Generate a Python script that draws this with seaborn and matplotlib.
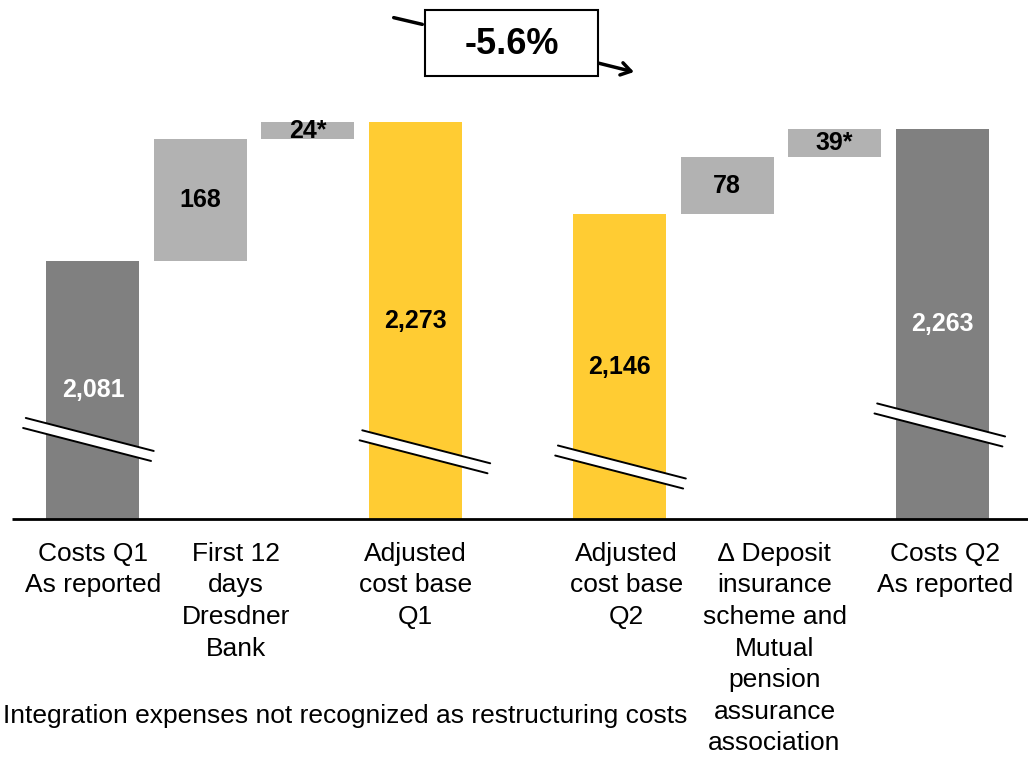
import matplotlib
matplotlib.use("Agg")
import matplotlib.pyplot as plt
from matplotlib.patches import Rectangle
import seaborn as sns
import pandas as pd

# waterfall steps, EUR m
steps = ["Costs Q1", "First 12 days", "Integration Q1", "Adjusted Q1",
         "Adjusted Q2", "Deposit insurance", "Integration Q2", "Costs Q2"]
values = [2081, 168, 24, 2273, 2146, 78, 39, 2263]
kinds = ["total", "delta", "delta", "adjusted", "adjusted", "delta", "delta", "total"]
value_labels = ["2,081", "168", "24*", "2,273", "2,146", "78", "39*", "2,263"]
x_pos = [0, 1, 2, 3, 4.9, 5.9, 6.9, 7.9]

category_labels = [
    "Costs Q1\nAs reported",
    "First 12\ndays\nDresdner\nBank",
    "Adjusted\ncost base\nQ1",
    "Adjusted\ncost base\nQ2",
    "\u2206 Deposit\ninsurance\nscheme and\nMutual\npension\nassurance\nassociation",
    "Costs Q2\nAs reported",
]
label_x = [0, 1.33, 3.0, 4.96, 6.34, 7.93]
change_label = "-5.6%"
footnote = "Integration expenses not recognized as restructuring costs"

palette = {"total": "#808080", "delta": "#b2b2b2", "adjusted": "#ffcc33"}
axis_base = 1725  # value sitting on the (broken) baseline

# break marks: bar index, x shift, height above baseline
breaks = [(0, -0.03, 110), (3, 0.10, 93), (4, 0.02, 72), (7, -0.01, 130)]

starts, heights = [], []
running = 0
for v, k in zip(values, kinds):
    if k == "delta":
        starts.append(running - axis_base)
        heights.append(v)
        running += v
    else:
        starts.append(0)
        heights.append(v - axis_base)
        running = v

df = pd.DataFrame({"pos": x_pos, "height": heights, "start": starts, "kind": kinds})

sns.set_style("white")
plt.rcParams["font.family"] = ["Liberation Sans", "DejaVu Sans"]
plt.rcParams["text.color"] = "black"

fig = plt.figure(figsize=(10.28, 7.6), dpi=100)
ax = fig.add_axes([0, 0, 1, 1])

sns.barplot(data=df, x="pos", y="height", bottom=df["start"].tolist(),
            native_scale=True, width=0.865, color="#808080", saturation=1,
            errorbar=None, linewidth=0, ax=ax)
for patch, k in zip(ax.patches, df["kind"]):
    patch.set_facecolor(palette[k])

for x, s, h, txt, k in zip(df["pos"], df["start"], df["height"], value_labels, kinds):
    ax.text(x, s + h / 2, txt, ha="center", va="center", fontsize=18,
            fontweight="bold", color="white" if k == "total" else "black", zorder=5)

# axis break marks
d, g, half = 45.5, 13.8, 0.595
for i, dx, m in breaks:
    c = x_pos[i] + dx
    x0, x1 = c - half, c + half
    ax.fill([x0, x1, x1 - 0.025, x0 - 0.025],
            [m + d / 2 + g / 2, m - d / 2 + g / 2, m - d / 2 - g / 2, m + d / 2 - g / 2],
            color="white", lw=0, zorder=3)
    ax.plot([x0, x1], [m + d / 2 + g / 2, m - d / 2 + g / 2], color="black", lw=1.4, zorder=4)
    ax.plot([x0 - 0.025, x1 - 0.025], [m + d / 2 - g / 2, m - d / 2 - g / 2],
            color="black", lw=1.4, zorder=4)

ax.plot([-0.753, 8.7], [0, 0], color="black", lw=2, zorder=6, solid_capstyle="butt")

for x, txt in zip(label_x, category_labels):
    ax.text(x, 0.287, txt, transform=ax.get_xaxis_transform(), ha="center", va="top",
            fontsize=19, linespacing=1.4, color="black")
ax.text(0.003, 0.058, footnote, transform=ax.transAxes, ha="left", va="center",
        fontsize=19, color="black")

# change annotation on top
fig.patches.append(Rectangle((425 / 1028, 684 / 760), 173 / 1028, 66 / 760,
                             transform=fig.transFigure, facecolor="white",
                             edgecolor="black", lw=1.5))
fig.text(511.5 / 1028, 715 / 760, change_label, ha="center", va="center",
         fontsize=26, fontweight="bold", color="black")
ax.annotate("", xy=(425, 735), xytext=(391, 743), xycoords="figure pixels",
            textcoords="figure pixels",
            arrowprops=dict(arrowstyle="-", lw=2.5, color="black"))
ax.annotate("", xy=(634, 688), xytext=(598, 697), xycoords="figure pixels",
            textcoords="figure pixels",
            arrowprops=dict(arrowstyle="->,head_length=0.7,head_width=0.45", lw=2.5,
                            color="black", shrinkA=0, shrinkB=0))

ax.set_xlim(-0.865, 8.698)
ax.set_ylim(-332, 716)
ax.axis("off")

fig.savefig("out.png", dpi=100)
